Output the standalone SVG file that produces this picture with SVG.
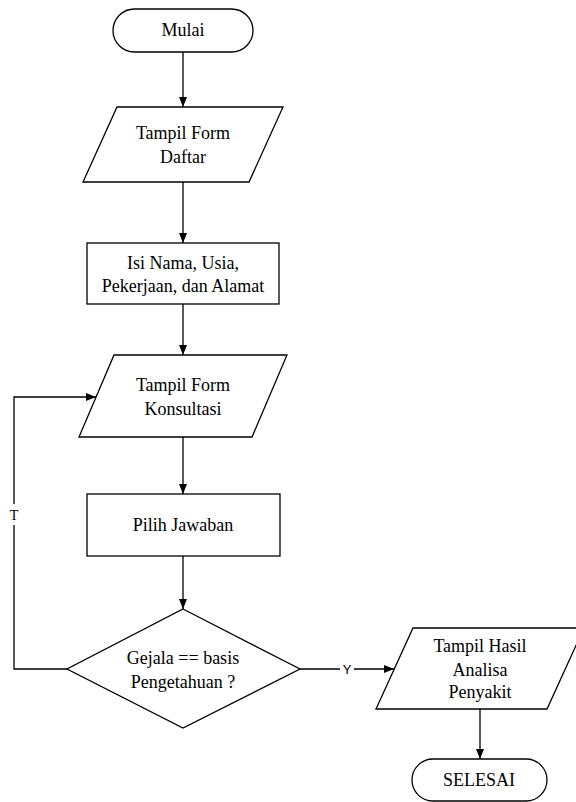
<svg xmlns="http://www.w3.org/2000/svg" width="576" height="802" viewBox="0 0 576 802">
<style>
.s{fill:#fff;stroke:#000;stroke-width:1.3}
.c{fill:none;stroke:#000;stroke-width:1.3}
</style>
<defs>
<marker id="a" markerWidth="10" markerHeight="8" refX="10" refY="4" orient="auto" markerUnits="userSpaceOnUse">
<path d="M0,0 L10,4 L0,8 Z" fill="#000"/>
</marker>
</defs>
<rect width="576" height="802" fill="#fff"/>
<g id="connectors">
<line class="c" x1="183" y1="52" x2="183" y2="107" marker-end="url(#a)"/>
<line class="c" x1="183" y1="182" x2="183" y2="243" marker-end="url(#a)"/>
<line class="c" x1="183" y1="304" x2="183" y2="355" marker-end="url(#a)"/>
<line class="c" x1="183" y1="437" x2="183" y2="494" marker-end="url(#a)"/>
<line class="c" x1="183" y1="556" x2="183" y2="609" marker-end="url(#a)"/>
<polyline class="c" points="67,669 14,669 14,397 96,397" marker-end="url(#a)"/>
<rect x="6" y="504" width="16" height="21" fill="#fff"/>
<text x="14" y="520" font-family="Liberation Serif, serif" font-size="14px" text-anchor="middle">T</text>
<line class="c" x1="300" y1="669" x2="394" y2="669" marker-end="url(#a)"/>
<rect x="340" y="661" width="14" height="16" fill="#fff"/>
<text x="347" y="674" font-family="Liberation Sans, sans-serif" font-size="13px" text-anchor="middle">Y</text>
<line class="c" x1="480" y1="709" x2="480" y2="759" marker-end="url(#a)"/>
</g>
<g id="mulai">
<rect class="s" x="113" y="9" width="140" height="43" rx="21.5"/>
<text x="183" y="36" font-family="Liberation Serif, serif" font-size="18px" text-anchor="middle">Mulai</text>
</g>
<g id="tampil-form-daftar">
<polygon class="s" points="117,107 283,107 249,182 83,182"/>
<text x="183" y="139" font-family="Liberation Serif, serif" font-size="18px" text-anchor="middle">Tampil Form</text>
<text x="183" y="163" font-family="Liberation Serif, serif" font-size="18px" text-anchor="middle">Daftar</text>
</g>
<g id="isi-nama">
<rect class="s" x="87" y="243" width="192" height="61"/>
<text x="183" y="269" font-family="Liberation Serif, serif" font-size="18px" text-anchor="middle">Isi Nama, Usia,</text>
<text x="183" y="292" font-family="Liberation Serif, serif" font-size="18px" text-anchor="middle">Pekerjaan, dan Alamat</text>
</g>
<g id="tampil-form-konsultasi">
<polygon class="s" points="114,355 287,355 252,437 79,437"/>
<text x="183" y="391" font-family="Liberation Serif, serif" font-size="18px" text-anchor="middle">Tampil Form</text>
<text x="183" y="415" font-family="Liberation Serif, serif" font-size="18px" text-anchor="middle">Konsultasi</text>
</g>
<g id="pilih-jawaban">
<rect class="s" x="87" y="494" width="193" height="62"/>
<text x="183" y="531" font-family="Liberation Serif, serif" font-size="18px" text-anchor="middle">Pilih Jawaban</text>
</g>
<g id="gejala">
<polygon class="s" points="183,609 300,669 183,728 67,669"/>
<text x="183" y="664" font-family="Liberation Serif, serif" font-size="18px" text-anchor="middle">Gejala == basis</text>
<text x="183" y="688" font-family="Liberation Serif, serif" font-size="18px" text-anchor="middle">Pengetahuan ?</text>
</g>
<g id="tampil-hasil">
<polygon class="s" points="413,628 584,628 547,709 376,709"/>
<text x="480" y="652" font-family="Liberation Serif, serif" font-size="18px" text-anchor="middle">Tampil Hasil</text>
<text x="480" y="676" font-family="Liberation Serif, serif" font-size="18px" text-anchor="middle">Analisa</text>
<text x="480" y="698" font-family="Liberation Serif, serif" font-size="18px" text-anchor="middle">Penyakit</text>
</g>
<g id="selesai">
<rect class="s" x="412" y="759" width="135" height="42" rx="21"/>
<text x="479" y="786" font-family="Liberation Serif, serif" font-size="18px" text-anchor="middle">SELESAI</text>
</g>
</svg>
